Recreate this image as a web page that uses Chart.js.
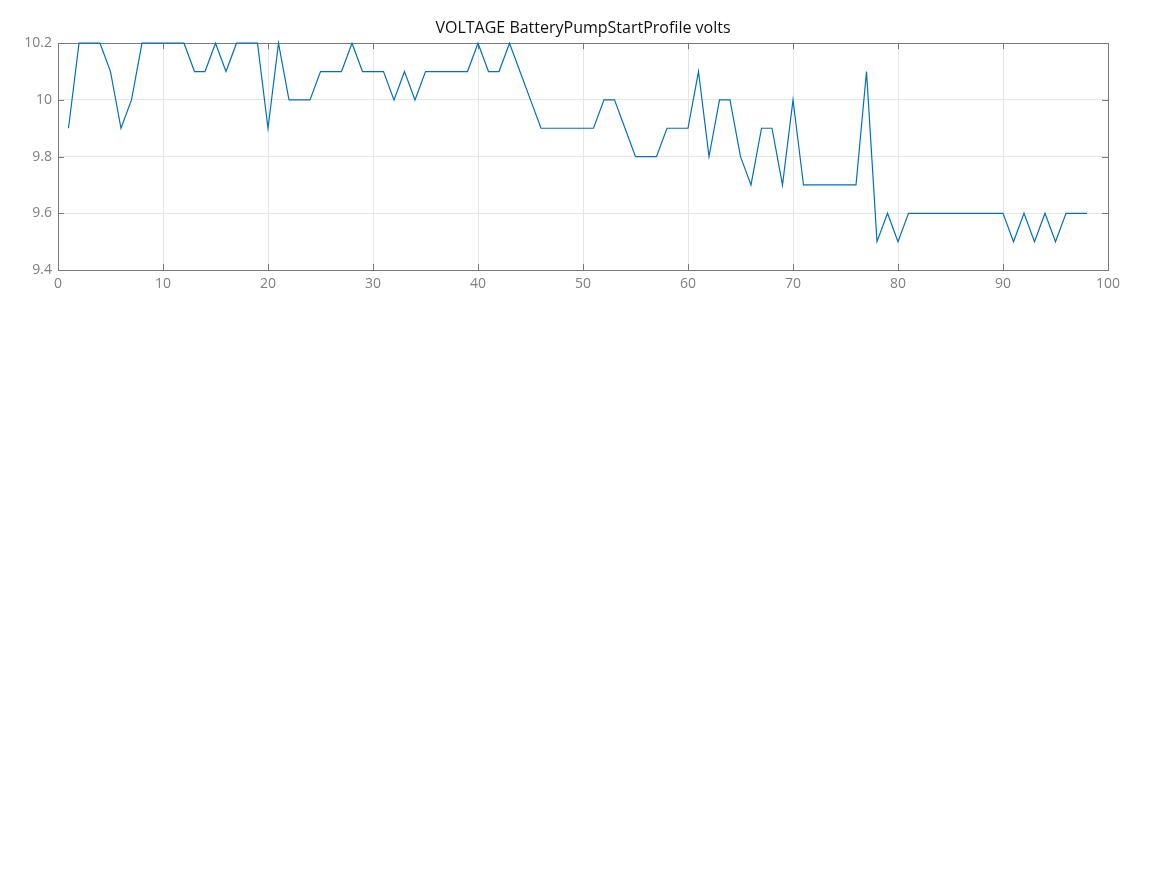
<!DOCTYPE html>
<html lang="en">
<head>
    <meta charset="UTF-8">
    <title>VOLTAGE BatteryPumpStartProfile volts</title>
    <script src="https://cdn.jsdelivr.net/npm/chart.js"></script>
    <style>
        body {
            margin: 0;
            background: #fff;
            font-family: 'Open Sans', sans-serif;
        }
        .chart-box {
            position: absolute;
            left: 0;
            top: 0;
            width: 1167px;
            height: 300px;
        }
    </style>
</head>
<body>
    <div class="chart-box">
        <canvas id="voltChart"></canvas>
    </div>

    <script>
        // Sample volts, one per sample index starting at 1
        const volts = [
            9.9, 10.2, 10.2, 10.2, 10.1, 9.9, 10.0, 10.2, 10.2, 10.2,
            10.2, 10.2, 10.1, 10.1, 10.2, 10.1, 10.2, 10.2, 10.2, 9.9,
            10.2, 10.0, 10.0, 10.0, 10.1, 10.1, 10.1, 10.2, 10.1, 10.1,
            10.1, 10.0, 10.1, 10.0, 10.1, 10.1, 10.1, 10.1, 10.1, 10.2,
            10.1, 10.1, 10.2, 10.1, 10.0, 9.9, 9.9, 9.9, 9.9, 9.9,
            9.9, 10.0, 10.0, 9.9, 9.8, 9.8, 9.8, 9.9, 9.9, 9.9,
            10.1, 9.8, 10.0, 10.0, 9.8, 9.7, 9.9, 9.9, 9.7, 10.0,
            9.7, 9.7, 9.7, 9.7, 9.7, 9.7, 10.1, 9.5, 9.6, 9.5,
            9.6, 9.6, 9.6, 9.6, 9.6, 9.6, 9.6, 9.6, 9.6, 9.6,
            9.5, 9.6, 9.5, 9.6, 9.5, 9.6, 9.6, 9.6
        ];
        const xTicks = [0, 10, 20, 30, 40, 50, 60, 70, 80, 90, 100];
        const yTicks = [9.4, 9.6, 9.8, 10, 10.2];

        const axisColor = '#7a7a7a';

        // box around the plot plus little inward tick marks on all four sides
        // drawn under the line so the trace stays visible along the top edge
        const boxTicks = {
            id: 'boxTicks',
            beforeDatasetsDraw(chart) {
                const { ctx, chartArea: a, scales } = chart;
                const len = 6;
                ctx.save();
                ctx.strokeStyle = axisColor;
                ctx.lineWidth = 1;
                ctx.beginPath();
                xTicks.forEach(v => {
                    const px = Math.round(scales.x.getPixelForValue(v)) + 0.5;
                    ctx.moveTo(px, a.bottom); ctx.lineTo(px, a.bottom - len);
                    ctx.moveTo(px, a.top); ctx.lineTo(px, a.top + len);
                });
                yTicks.forEach(v => {
                    const py = Math.round(scales.y.getPixelForValue(v)) + 0.5;
                    ctx.moveTo(a.left, py); ctx.lineTo(a.left + len, py);
                    ctx.moveTo(a.right, py); ctx.lineTo(a.right - len, py);
                });
                ctx.stroke();
                ctx.strokeRect(Math.round(a.left) + 0.5, Math.round(a.top) + 0.5,
                    Math.round(a.right - a.left), Math.round(a.bottom - a.top));
                ctx.restore();
            }
        };

        Chart.defaults.font.family = "'Open Sans', sans-serif";

        new Chart(document.getElementById('voltChart'), {
            type: 'line',
            data: {
                datasets: [{
                    data: volts.map((v, i) => ({ x: i + 1, y: v })),
                    borderColor: '#0072bd',
                    borderWidth: 1.2,
                    pointRadius: 0,
                    tension: 0,
                    fill: false,
                    clip: 4
                }]
            },
            options: {
                responsive: true,
                maintainAspectRatio: false,
                animation: false,
                layout: { padding: { left: 0, right: 59, bottom: 0 } },
                plugins: {
                    legend: { display: false },
                    tooltip: { enabled: false },
                    title: {
                        display: true,
                        // only as wide as the plot, so it centres over the plot
                        fullSize: false,
                        text: 'VOLTAGE BatteryPumpStartProfile volts',
                        color: '#111',
                        font: { size: 16, weight: 'normal' },
                        padding: { top: 19, bottom: 5 }
                    }
                },
                scales: {
                    x: {
                        type: 'linear',
                        min: 0,
                        max: 100,
                        afterBuildTicks: s => { s.ticks = xTicks.map(v => ({ value: v })); },
                        afterFit: s => { s.height = 30; },
                        grid: { color: '#e6e6e6', drawTicks: false },
                        border: { display: false },
                        ticks: { color: '#808080', font: { size: 14 }, padding: 6, maxRotation: 0 }
                    },
                    y: {
                        min: 9.4,
                        max: 10.2,
                        afterBuildTicks: s => { s.ticks = yTicks.map(v => ({ value: v })); },
                        afterFit: s => { s.width = 58; },
                        grid: { color: '#e6e6e6', drawTicks: false },
                        border: { display: false },
                        ticks: {
                            color: '#808080',
                            font: { size: 14 },
                            padding: 6,
                            callback: v => String(Math.round(v * 10) / 10)
                        }
                    }
                }
            },
            plugins: [boxTicks]
        });
    </script>
</body>
</html>
